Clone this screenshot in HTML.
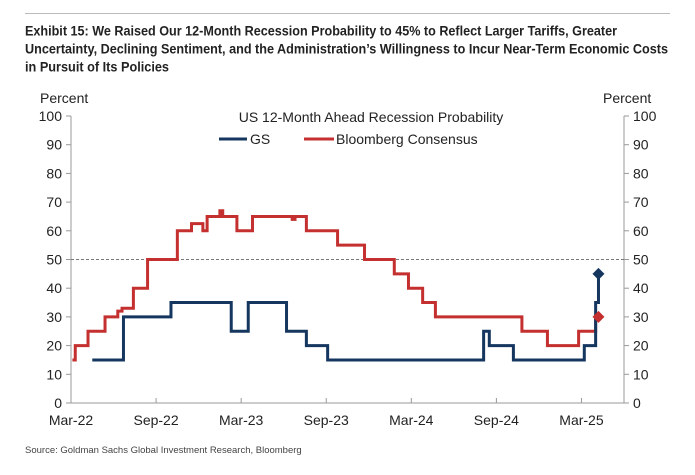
<!DOCTYPE html>
<html><head><meta charset="utf-8"><style>
body{margin:0;background:#fff}
svg{display:block;font-family:"Liberation Sans",sans-serif}
</style></head><body>
<svg id="c" width="695" height="475" viewBox="0 0 695 475">
<line x1="25" y1="13.5" x2="670" y2="13.5" stroke="#bbb" stroke-width="1"/>
<g font-weight="bold" font-size="14" fill="#222">
<text x="25" y="35.5" textLength="592" lengthAdjust="spacingAndGlyphs">Exhibit 15: We Raised Our 12-Month Recession Probability to 45% to Reflect Larger Tariffs, Greater</text>
<text x="25" y="53.5" textLength="643" lengthAdjust="spacingAndGlyphs">Uncertainty, Declining Sentiment, and the Administration’s Willingness to Incur Near-Term Economic Costs</text>
<text x="25" y="71.5" textLength="144" lengthAdjust="spacingAndGlyphs">in Pursuit of Its Policies</text>
</g>
<text x="40" y="103" font-size="14" fill="#222">Percent</text>
<text x="603" y="103" font-size="14" fill="#222">Percent</text>
<text x="371" y="122" font-size="14" fill="#222" text-anchor="middle">US 12-Month Ahead Recession Probability</text>
<g>
<line x1="219" y1="139" x2="247" y2="139" stroke="#14365f" stroke-width="3"/>
<text x="250" y="144" font-size="14" fill="#222">GS</text>
<line x1="304" y1="139" x2="334" y2="139" stroke="#c4302f" stroke-width="3"/>
<text x="336" y="144" font-size="14" fill="#222">Bloomberg Consensus</text>
</g>
<g id="axes"></g>
<g id="marks"></g>
<text x="25" y="453" font-size="9.5" fill="#444">Source: Goldman Sachs Global Investment Research, Bloomberg</text>
</svg>
<script>
// months since Mar-22
const gsMonths = [1.5, 3.7, 7.05, 11.3, 12.5, 15.2, 16.6, 18.1, 29.1, 29.5, 31.2, 36.2, 37.0, 37.2];
const gsValues = [15, 30, 35, 25, 35, 25, 20, 15, 25, 20, 15, 20, 35, 45];
const bbgMonths = [0.1, 0.3, 1.2, 2.4, 3.3, 3.6, 4.4, 5.4, 7.5, 8.5, 9.3, 9.6, 10.5, 10.7, 11.7, 12.8, 15.6, 15.8, 16.6, 18.8, 20.7, 22.8, 23.8, 24.8, 25.7, 31.8, 33.6, 35.8, 37.0, 37.2];
const bbgValues = [15, 20, 25, 30, 32, 33, 40, 50, 60, 62.5, 60, 65, 67, 65, 60, 65, 64, 65, 60, 55, 50, 45, 40, 35, 30, 25, 20, 25, 30, 30];
const xTickLabels = ["Mar-22","Sep-22","Mar-23","Sep-23","Mar-24","Sep-24","Mar-25"];
const yTicks = [0,10,20,30,40,50,60,70,80,90,100];
const X0=71, X1=624, Y0=403, Y1=116, MMAX=39;
const x = m => X0 + (X1-X0)*m/MMAX;
const y = v => Y0 - (Y0-Y1)*v/100;
const NS="http://www.w3.org/2000/svg";
const axes=document.getElementById('axes'), marks=document.getElementById('marks');
function mk(tag, attrs, parent){const e=document.createElementNS(NS,tag);for(const k in attrs)e.setAttribute(k,attrs[k]);parent.appendChild(e);return e;}
let e;
e=mk('line',{x1:X0,y1:Y1,x2:X0,y2:Y0,stroke:'#999'},axes);


e=mk('line',{x1:X1,y1:Y1,x2:X1,y2:Y0,stroke:'#999'},axes);


e=mk('line',{x1:X0,y1:Y0,x2:X1,y2:Y0,stroke:'#999'},axes);


yTicks.forEach(v=>{
  mk('line',{x1:X0-5,y1:y(v),x2:X0,y2:y(v),stroke:'#999'},axes);
  mk('line',{x1:X1,y1:y(v),x2:X1+5,y2:y(v),stroke:'#999'},axes);
  e=mk('text',{x:X0-9,y:y(v)+5,'font-size':14,fill:'#222','text-anchor':'end'},axes);e.textContent=v;
  
  
  e=mk('text',{x:X1+9,y:y(v)+5,'font-size':14,fill:'#222'},axes);e.textContent=v;
  
  
});
xTickLabels.forEach((l,i)=>{
  const xx=x(i*6);
  mk('line',{x1:xx,y1:Y0,x2:xx,y2:Y0-5,stroke:'#999'},axes);
  e=mk('text',{x:xx,y:Y0+22,'font-size':14,fill:'#222','text-anchor':'middle'},axes);e.textContent=l;
  
  
});
e=mk('line',{x1:X0,y1:y(50),x2:X1,y2:y(50),stroke:'#777','stroke-dasharray':'3,2'},marks);


function step(ms,vs){let d='M'+x(ms[0])+','+y(vs[0]);for(let i=1;i<ms.length;i++){d+=' H'+x(ms[i])+' V'+y(vs[i]);}return d;}
e=mk('path',{d:step(bbgMonths,bbgValues),fill:'none',stroke:'#c4302f','stroke-width':3},marks);


e=mk('path',{d:step(gsMonths,gsValues),fill:'none',stroke:'#14365f','stroke-width':3},marks);


function diamond(m,v,c,name){const cx=x(m),cy=y(v),r=6;
  e=mk('path',{d:`M${cx},${cy-r} L${cx+r},${cy} L${cx},${cy+r} L${cx-r},${cy} Z`,fill:c},marks);
  
  }
diamond(bbgMonths[bbgMonths.length-1],bbgValues[bbgValues.length-1],'#c4302f','bloomberg-latest-marker');
diamond(gsMonths[gsMonths.length-1],gsValues[gsValues.length-1],'#14365f','gs-latest-marker');
</script>
</body></html>
